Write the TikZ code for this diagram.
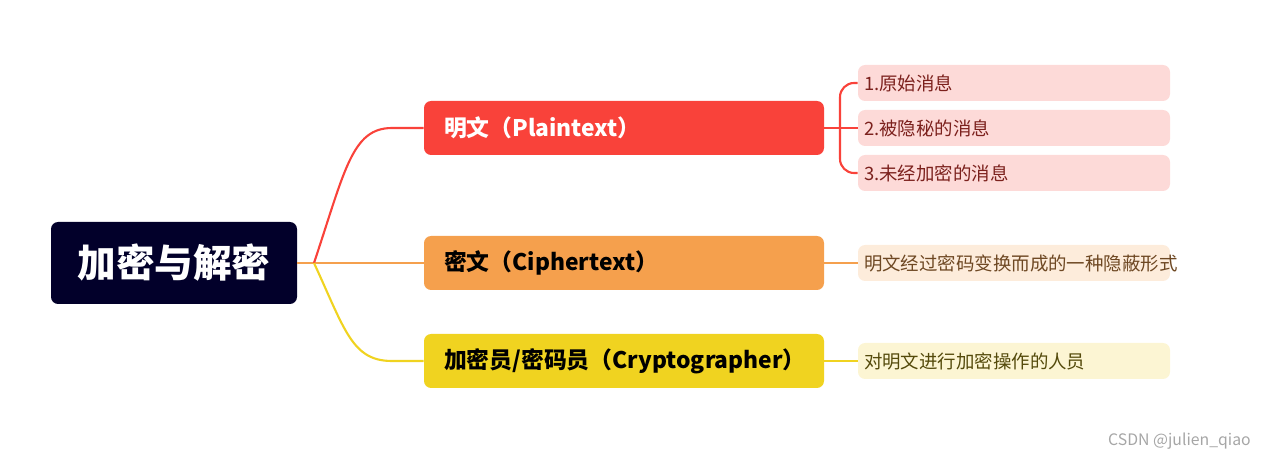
\documentclass[tikz,border=0pt]{standalone}
\usepackage{fontspec}
\setmainfont{Noto Sans CJK SC}
\usetikzlibrary{calc}
\definecolor{rootc}{HTML}{02002A}
\definecolor{redc}{HTML}{F9423A}
\definecolor{orgc}{HTML}{F5A04D}
\definecolor{yelc}{HTML}{F0D320}
\definecolor{redl}{HTML}{FDDAD8}
\definecolor{orgl}{HTML}{FDECDB}
\definecolor{yell}{HTML}{FCF5D3}
\tikzset{
  rootbox/.style={fill=rootc, text=white, rounded corners=4pt, minimum width=246*0.02cm,
    minimum height=82*0.02cm, font=\fontsize{22}{24}\selectfont\bfseries},
  branch/.style={rounded corners=4pt, minimum width=400*0.02cm, minimum height=54*0.02cm,
    text width=360*0.02cm, align=left, font=\fontsize{13}{15}\selectfont\bfseries},
  leaf/.style={rounded corners=4pt, minimum width=312*0.02cm, minimum height=36*0.02cm,
    text width=300*0.02cm, align=left, font=\fontsize{10.5}{12}\selectfont},
  link/.style={line width=1.2pt}
}
\begin{document}
\begin{tikzpicture}[x=0.02cm,y=-0.02cm]
    % Canvas
    \useasboundingbox (0,0) rectangle (1269,459);

    % Root and branches
    \node[rootbox] (root) at (174,263) {加密与解密};
    \node[branch, fill=redc, text=white] (plain) at (624,128) {明文（Plaintext）};
    \node[branch, fill=orgc] (cipher) at (624,263) {密文（Ciphertext）};
    \node[branch, fill=yelc] (crypto) at (624,361) {加密员/密码员（Cryptographer）};

    % Leaves
    \node[leaf, fill=redl, text=redc!50!black] (p1) at (1014,83) {1.原始消息};
    \node[leaf, fill=redl, text=redc!50!black] (p2) at (1014,128) {2.被隐秘的消息};
    \node[leaf, fill=redl, text=redc!50!black] (p3) at (1014,173) {3.未经加密的消息};
    \node[leaf, fill=orgl, text=orgc!45!black] (c1) at (1014,263) {明文经过密码变换而成的一种隐蔽形式};
    \node[leaf, fill=yell, text=yelc!35!black] (y1) at (1014,361) {对明文进行加密操作的人员};

    % Root connectors
    \coordinate (hub) at (314,263);
    \draw[link, orgc] (root.east) -- (cipher.west);
    \draw[link, redc] (hub) .. controls (345,170) and (352,128) .. (392,128) -- (plain.west);
    \draw[link, yelc] (hub) .. controls (345,330) and (352,361) .. (392,361) -- (crypto.west);

    % Leaf connectors
    \coordinate (pj) at (840,128);
    \draw[link, redc] (plain.east) -- (pj) -- (p2.west);
    \draw[link, redc, rounded corners=8pt] (p1.west) -| (pj) |- (p3.west);
    \draw[link, orgc] (cipher.east) -- (c1.west);
    \draw[link, yelc] (crypto.east) -- (y1.west);

    % Watermark
    \node[text=gray!70, font=\fontsize{9}{10}\selectfont, anchor=east] (mark) at (1257,441) {CSDN @julien\_qiao};
\end{tikzpicture}
\end{document}
